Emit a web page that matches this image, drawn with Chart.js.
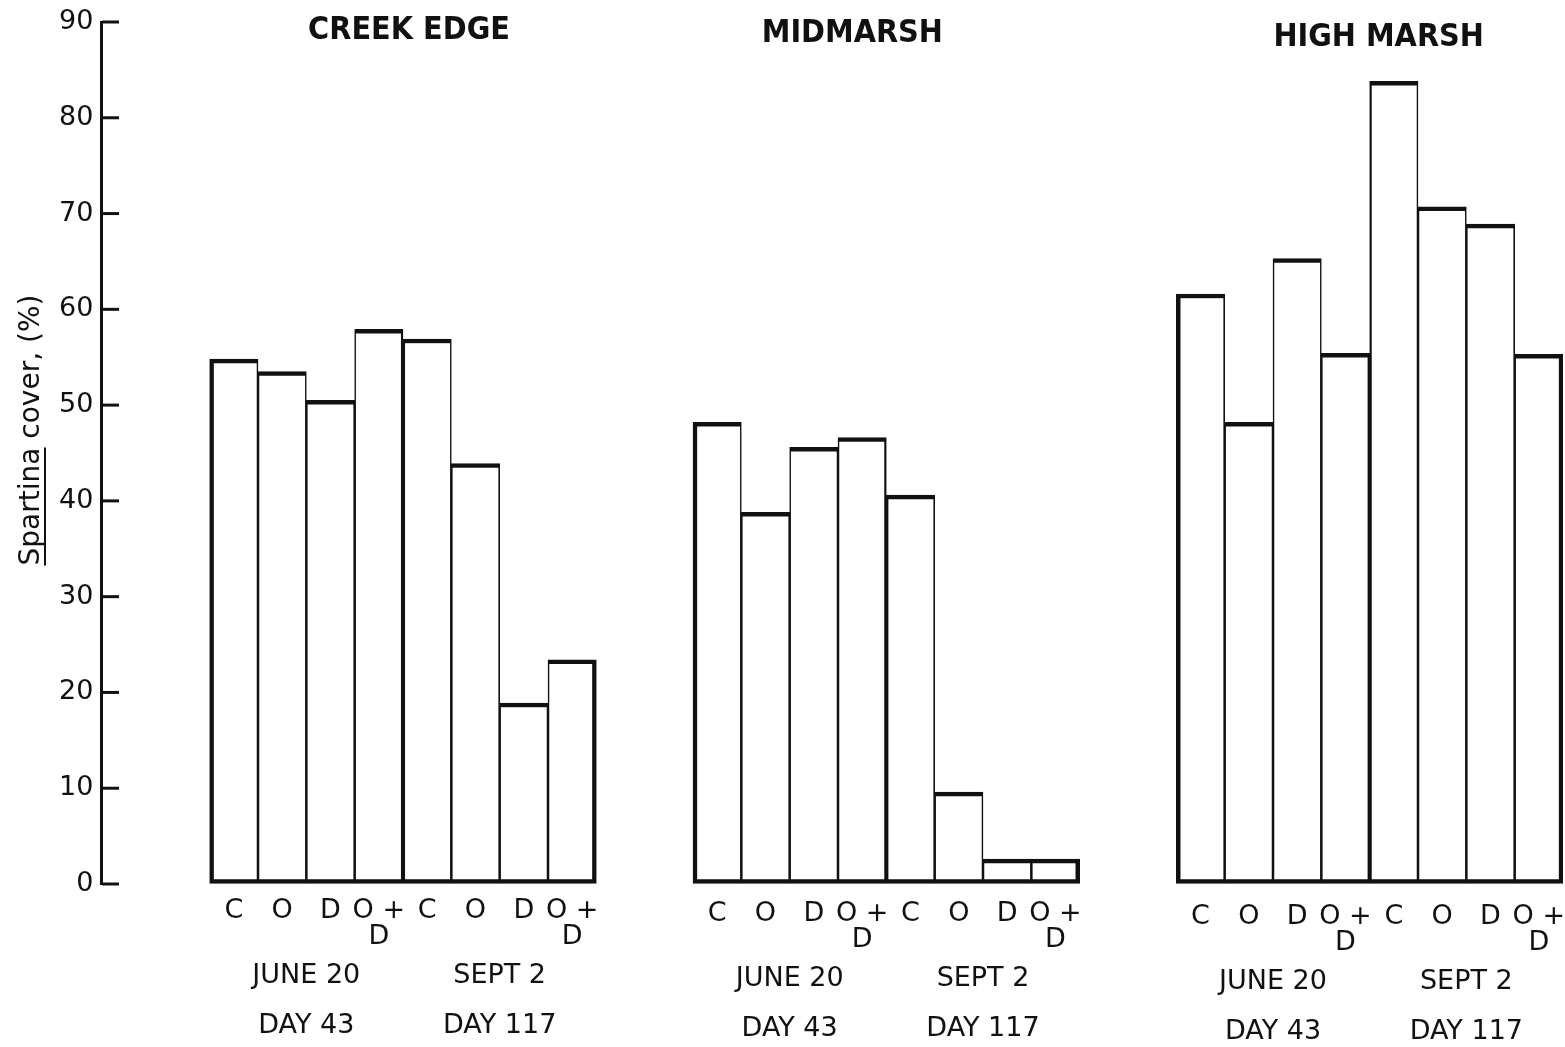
<!DOCTYPE html>
<html>
<head>
<meta charset="utf-8">
<script src="https://cdn.jsdelivr.net/npm/chart.js@4"></script>
<style>
  html, body { margin: 0; padding: 0; background: #fff; }
  #wrap { width: 1565px; height: 1047px; }
</style>
</head>
<body>
<div id="wrap"><canvas id="cover"></canvas></div>
<script>
// panels and treatments
const sites = ['CREEK EDGE', 'MIDMARSH', 'HIGH MARSH'];
const treatments = ['C', 'O', 'D', 'O+D', 'C', 'O', 'D', 'O+D'];
const dates = ['JUNE 20', 'SEPT 2'];
const days = ['DAY 43', 'DAY 117'];

// Spartina cover (%)
const creekEdge = [54.8, 53.5, 50.5, 57.9, 56.9, 43.9, 18.9, 23.4];
const midmarsh = [48.2, 38.8, 45.6, 46.6, 40.6, 9.6, 2.6, 2.6];
const highMarsh = [61.6, 48.2, 65.3, 55.4, 83.8, 70.7, 68.9, 55.3];

const yTicks = [0, 10, 20, 30, 40, 50, 60, 70, 80, 90];

// two empty slots before each panel
const GAP = 2;
const labels = [];
const values = [];
const panelStart = [];
[creekEdge, midmarsh, highMarsh].forEach((arr) => {
  for (let g = 0; g < GAP; g++) { labels.push(''); values.push(null); }
  panelStart.push(labels.length);
  arr.forEach((v, i) => { labels.push(treatments[i]); values.push(v); });
});

const INK = '#111';
const tickFont = '27px "DejaVu Sans", sans-serif';
const titleFont = 'bold 32px "Liberation Sans Narrow", "DejaVu Sans Condensed", sans-serif';
const labelShift = [0, 3, 6];
const titleY = [31, 34, 38];
const titleDx = [6, -34, 9];
// y axis sits a little left of the first empty slot
const AXIS_AT = -0.728;

function barBorder(ctx) {
  const i = ctx.dataIndex;
  let pos = -1;
  panelStart.forEach((s) => { if (i >= s && i < s + 8) pos = i - s; });
  const thick = 4.5, thin = 1.6;
  return {
    top: thick,
    bottom: thick,
    left: pos === 0 ? thick : (pos === 4 ? 2.4 : thin),
    right: pos === 7 ? thick : (pos === 3 ? 2.4 : thin)
  };
}

const annotate = {
  id: 'annotate',
  afterDraw(chart) {
    const { ctx, scales: { x, y } } = chart;
    const axisX = x.getPixelForValue(AXIS_AT);
    ctx.save();
    ctx.strokeStyle = INK;
    ctx.fillStyle = INK;

    // inward tick marks
    ctx.lineWidth = 3;
    yTicks.forEach((v) => {
      const py = y.getPixelForValue(v);
      ctx.beginPath();
      ctx.moveTo(axisX, py);
      ctx.lineTo(axisX + 17, py);
      ctx.stroke();
    });

    const base = y.getPixelForValue(0);
    ctx.textAlign = 'center';
    ctx.textBaseline = 'middle';
    panelStart.forEach((s, p) => {
      const dy = labelShift[p];
      // panel title
      ctx.font = titleFont;
      const cx = (x.getPixelForValue(s) + x.getPixelForValue(s + 7)) / 2;
      ctx.fillText(sites[p], cx + titleDx[p], titleY[p]);

      // treatment labels
      ctx.font = tickFont;
      treatments.forEach((t, i) => {
        const px = x.getPixelForValue(s + i);
        if (t === 'O+D') {
          ctx.fillText('O +', px, base + 27 + dy);
          ctx.fillText('D', px, base + 53 + dy);
        } else {
          ctx.fillText(t, px, base + 27 + dy);
        }
      });

      // sampling dates
      [0, 1].forEach((g) => {
        const px = (x.getPixelForValue(s + g * 4 + 1) + x.getPixelForValue(s + g * 4 + 2)) / 2;
        ctx.fillText(dates[g], px, base + 92 + dy);
        ctx.fillText(days[g], px, base + 142 + dy);
      });
    });

    // y axis title with underlined genus name
    ctx.save();
    ctx.translate(30, 430);
    ctx.rotate(-Math.PI / 2);
    ctx.font = '28px "DejaVu Sans", sans-serif';
    ctx.textAlign = 'left';
    ctx.textBaseline = 'alphabetic';
    const genus = 'Spartina';
    const rest = ' cover, (%)';
    const w1 = ctx.measureText(genus).width;
    const total = w1 + ctx.measureText(rest).width;
    const sx = -total / 2;
    ctx.fillText(genus, sx, 9);
    ctx.fillText(rest, sx + w1, 9);
    ctx.lineWidth = 2;
    ctx.beginPath();
    ctx.moveTo(sx, 15);
    ctx.lineTo(sx + w1, 15);
    ctx.stroke();
    ctx.restore();

    ctx.restore();
  }
};

new Chart(document.getElementById('cover'), {
  type: 'bar',
  data: {
    labels: labels,
    datasets: [{
      label: 'Spartina cover',
      data: values,
      backgroundColor: '#fff',
      borderColor: INK,
      borderWidth: barBorder,
      borderSkipped: false,
      barPercentage: 1,
      categoryPercentage: 1
    }]
  },
  options: {
    responsive: true,
    maintainAspectRatio: false,
    animation: false,
    layout: { padding: { top: 22, right: 2, bottom: 163, left: 113 } },
    plugins: {
      legend: { display: false },
      tooltip: { enabled: false }
    },
    scales: {
      x: { display: false },
      y: {
        position: { x: AXIS_AT },
        min: 0,
        max: 90,
        afterBuildTicks(scale) { scale.ticks = yTicks.map((v) => ({ value: v })); },
        afterFit(scale) { scale.paddingTop = 0; scale.paddingBottom = 0; },
        ticks: {
          color: INK,
          // positioned axes ignore padding, so a trailing space keeps labels off the line
          callback: (v) => v + ' ',
          font: { family: '"DejaVu Sans", sans-serif', size: 27 }
        },
        grid: { drawOnChartArea: false, drawTicks: false },
        border: { display: true, color: INK, width: 3 }
      }
    }
  },
  plugins: [annotate]
});
</script>
</body>
</html>
